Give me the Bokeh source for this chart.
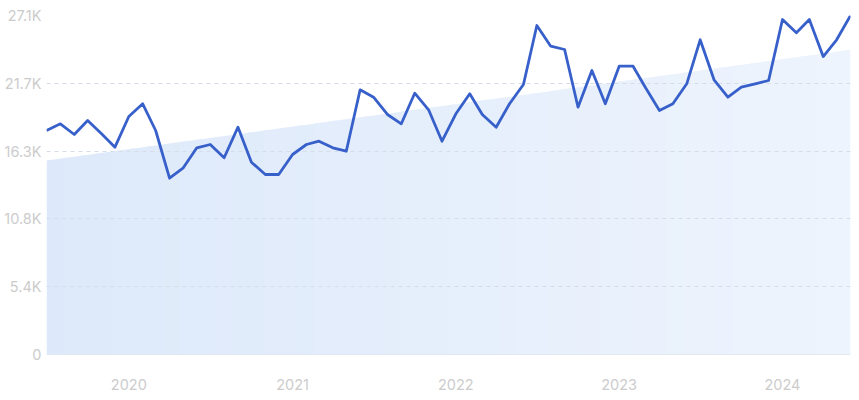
import numpy as np
import pandas as pd
from bokeh.plotting import figure
from bokeh.models import Range1d, FixedTicker, DatetimeTickFormatter, ColumnDataSource
from bokeh.embed import file_html
from bokeh.resources import INLINE

# monthly values Jul 2019 .. Jun 2024
months = pd.date_range("2019-07-01", periods=60, freq="MS")
values = [17907, 18442, 17587, 18706, 17643, 16572, 19026, 20041, 17907, 14094,
          14893, 16524, 16788, 15725, 18171, 15373, 14389, 14389, 15988, 16788,
          17052, 16524, 16252, 21160, 20569, 19186, 18442, 20889, 19561, 17052,
          19242, 20841, 19186, 18171, 20041, 21584, 26300, 24646, 24382, 19770,
          22703, 20041, 23047, 23047, 21320, 19506, 20041, 21640, 25158, 21960,
          20569, 21368, 21640, 21904, 26780, 25717, 26780, 23822, 25158, 27100]
trend_start, trend_end = 15508, 24357
y_ticks = [0, 5420, 10840, 16260, 21680, 27100]
y_labels = ["0", "5.4K", "10.8K", "16.3K", "21.7K", "27.1K"]
x_ticks = pd.to_datetime(["2020-01-01", "2021-01-01", "2022-01-01", "2023-01-01", "2024-01-01"])

p = figure(width=859, height=400, output_backend="svg", toolbar_location=None,
           x_axis_type="datetime",
           x_range=Range1d(months[0], months[-1]), y_range=Range1d(0, y_ticks[-1]),
           min_border_left=46, min_border_right=9, min_border_top=15, min_border_bottom=46)
p.outline_line_color = None
p.background_fill_color = "white"

# trend area with a left-to-right gradient approximated by strips
t0 = months[0].value / 1e6
t1 = months[-1].value / 1e6
n = 48
edges = np.linspace(t0, t1, n + 1)
c0 = np.array([0xdd, 0xe9, 0xfa])
c1 = np.array([0xee, 0xf4, 0xfd])
xs, ys, cols = [], [], []
for i in range(n):
    a, b = edges[i], edges[i + 1]
    bb = min(b + (t1 - t0) / n * 0.3, t1)
    ya = trend_start + (trend_end - trend_start) * (a - t0) / (t1 - t0)
    yb = trend_start + (trend_end - trend_start) * (bb - t0) / (t1 - t0)
    xs.append([a, bb, bb, a])
    ys.append([0, 0, yb, ya])
    f = (i + 0.5) / n
    c = (c0 * (1 - f) + c1 * f).round().astype(int)
    cols.append("#%02x%02x%02x" % tuple(c))
p.patches(xs, ys, fill_color=cols, line_color=None, level="image")

src = ColumnDataSource(dict(x=months, y=values))
p.line("x", "y", source=src, line_color="#3860ca", line_width=2.8, line_join="round")

p.xgrid.grid_line_color = None
p.ygrid.grid_line_color = "#d5dde8"
p.ygrid.grid_line_dash = "4 4"
p.ygrid.grid_line_width = 1
p.ygrid.ticker = FixedTicker(ticks=y_ticks)

p.yaxis.ticker = FixedTicker(ticks=y_ticks)
p.yaxis.major_label_overrides = {t: l for t, l in zip(y_ticks, y_labels)}
p.yaxis.axis_line_color = None
p.yaxis.major_tick_line_color = None
p.yaxis.minor_tick_line_color = None
p.yaxis.major_tick_in = 0
p.yaxis.major_tick_out = 0
p.yaxis.major_label_standoff = 5

p.xaxis.ticker = FixedTicker(ticks=[t.value / 1e6 for t in x_ticks])
p.xaxis.formatter = DatetimeTickFormatter(years="%Y", months="%Y", days="%Y")
p.xaxis.axis_line_color = "#e2e8f1"
p.xaxis.major_tick_line_color = None
p.xaxis.minor_tick_line_color = None
p.xaxis.major_tick_in = 0
p.xaxis.major_tick_out = 0
p.xaxis.major_label_standoff = 24

for ax in (p.xaxis, p.yaxis):
    ax.major_label_text_font = "Inter"
    ax.major_label_text_color = "#cccccc"
    ax.major_label_text_font_size = "14.5px"

open("out.html", "w").write(file_html(p, INLINE))
